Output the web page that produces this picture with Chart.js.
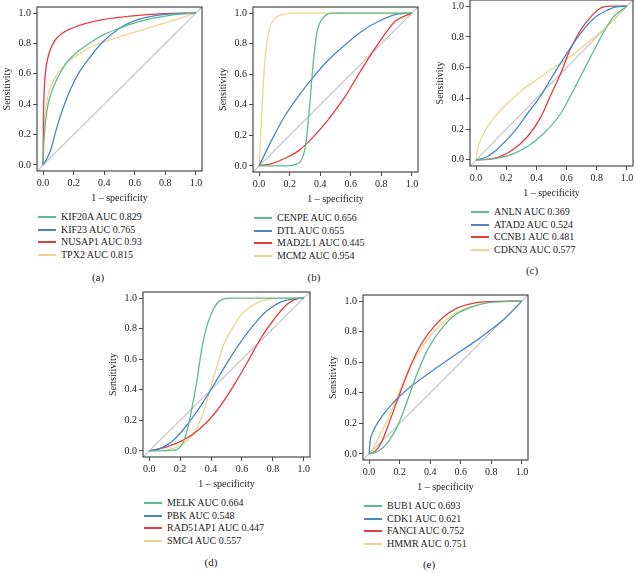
<!DOCTYPE html>
<html>
<head>
<meta charset="utf-8">
<script src="https://cdn.jsdelivr.net/npm/chart.js@4.4.1/dist/chart.umd.min.js"></script>
<style>
  body { margin: 0; background: #fff; width: 636px; height: 573px; position: relative; overflow: hidden;
         font-family: "Liberation Serif", "DejaVu Serif", serif; color: #222; }
  canvas { position: absolute; }
  .lrow { position: absolute; font-size: 10px; white-space: nowrap; height: 12px; line-height: 12px; }
  .lrow .key { position: absolute; left: 0; top: 5px; width: 18px; height: 2px; }
  .lrow .txt { position: absolute; left: 23px; top: 0; }
  .cap { position: absolute; font-size: 11px; transform: translate(-50%, -50%); }
</style>
</head>
<body>
<script>
// ROC curves, pairs of [1 - specificity, sensitivity]

// (a)
const KIF20A = [[0,0],[0.003,0.12],[0.008,0.2],[0.018,0.3],[0.033,0.4],[0.055,0.48],[0.088,0.56],[0.12,0.62],[0.16,0.68],[0.22,0.74],[0.3,0.8],[0.4,0.86],[0.5,0.9],[0.6,0.935],[0.7,0.962],[0.8,0.98],[0.9,0.993],[1,1]];
const KIF23 = [[0,0],[0.03,0.05],[0.05,0.1],[0.077,0.2],[0.1,0.28],[0.14,0.4],[0.18,0.5],[0.23,0.6],[0.3,0.7],[0.38,0.8],[0.5,0.9],[0.6,0.95],[0.7,0.977],[0.8,0.992],[0.9,0.998],[1,1]];
const NUSAP1 = [[0,0],[0.002,0.3],[0.006,0.46],[0.013,0.58],[0.022,0.66],[0.044,0.75],[0.077,0.82],[0.13,0.87],[0.2,0.905],[0.28,0.932],[0.39,0.957],[0.57,0.98],[0.79,0.996],[1,1]];
const TPX2 = [[0,0],[0.002,0.12],[0.004,0.2],[0.01,0.3],[0.018,0.38],[0.03,0.45],[0.044,0.5],[0.07,0.56],[0.1,0.61],[0.15,0.67],[0.22,0.72],[0.3,0.77],[0.4,0.81],[0.5,0.845],[0.6,0.875],[0.7,0.905],[0.8,0.935],[0.9,0.967],[1,1]];

// (b)
const CENPE = [[0,0],[0.1,0],[0.2,0.002],[0.24,0.01],[0.27,0.03],[0.29,0.07],[0.31,0.17],[0.322,0.3],[0.334,0.43],[0.345,0.57],[0.356,0.69],[0.367,0.79],[0.378,0.87],[0.395,0.93],[0.41,0.958],[0.443,0.99],[0.48,1],[1,1]];
const DTL = [[0,0],[0.083,0.17],[0.17,0.33],[0.26,0.46],[0.345,0.57],[0.45,0.69],[0.56,0.79],[0.67,0.88],[0.78,0.945],[0.89,0.99],[1,1]];
const MAD2L1 = [[0,0],[0.083,0.015],[0.17,0.05],[0.26,0.1],[0.345,0.18],[0.45,0.3],[0.56,0.45],[0.67,0.63],[0.78,0.8],[0.89,0.945],[1,1]];
const MCM2 = [[0,0],[0.005,0.1],[0.011,0.21],[0.022,0.43],[0.035,0.65],[0.05,0.8],[0.072,0.91],[0.105,0.967],[0.15,0.99],[0.21,1],[1,1]];

// (c)
const ANLN = [[0,0],[0.117,0.007],[0.227,0.032],[0.34,0.087],[0.45,0.173],[0.56,0.3],[0.67,0.5],[0.78,0.71],[0.845,0.83],[0.91,0.93],[1,1]];
const ATAD2 = [[0,0],[0.073,0.02],[0.16,0.087],[0.25,0.18],[0.34,0.3],[0.43,0.42],[0.51,0.55],[0.6,0.69],[0.69,0.82],[0.78,0.92],[0.87,0.974],[0.93,0.996],[1,1]];
const CCNB1 = [[0,0],[0.117,0.01],[0.227,0.054],[0.34,0.15],[0.43,0.28],[0.49,0.41],[0.56,0.56],[0.62,0.71],[0.69,0.84],[0.76,0.93],[0.82,0.985],[0.89,1],[1,1]];
const CDKN3 = [[0,0],[0.01,0.07],[0.03,0.13],[0.06,0.19],[0.1,0.25],[0.15,0.31],[0.2,0.36],[0.3,0.45],[0.4,0.52],[0.5,0.59],[0.6,0.655],[0.7,0.73],[0.8,0.81],[0.9,0.9],[1,1]];

// (d)
const MELK = [[0,0],[0.1,0.002],[0.16,0.005],[0.18,0.01],[0.21,0.037],[0.243,0.124],[0.276,0.277],[0.31,0.47],[0.34,0.67],[0.374,0.82],[0.417,0.93],[0.46,0.985],[0.526,1],[1,1]];
const PBK = [[0,0],[0.07,0.015],[0.157,0.07],[0.243,0.168],[0.33,0.29],[0.417,0.43],[0.5,0.57],[0.59,0.71],[0.68,0.83],[0.765,0.92],[0.85,0.974],[0.94,0.996],[1,1]];
const RAD51AP1 = [[0,0],[0.113,0.026],[0.22,0.07],[0.33,0.146],[0.44,0.266],[0.548,0.43],[0.635,0.58],[0.72,0.734],[0.81,0.865],[0.896,0.963],[0.96,0.996],[1,1]];
const SMC4 = [[0,0],[0.113,0.006],[0.22,0.048],[0.287,0.113],[0.352,0.255],[0.396,0.41],[0.44,0.56],[0.48,0.69],[0.548,0.82],[0.613,0.91],[0.7,0.97],[0.81,0.996],[1,1]];

// (e)
const BUB1 = [[0,0],[0.06,0.017],[0.126,0.08],[0.19,0.19],[0.256,0.364],[0.32,0.54],[0.387,0.69],[0.474,0.82],[0.56,0.907],[0.67,0.96],[0.78,0.99],[0.9,0.998],[1,1]];
const CDK1 = [[0,0],[0.0065,0.08],[0.028,0.15],[0.06,0.21],[0.126,0.3],[0.235,0.41],[0.34,0.49],[0.45,0.57],[0.56,0.646],[0.67,0.72],[0.78,0.8],[0.887,0.885],[1,1]];
const FANCI = [[0,0],[0.04,0.017],[0.083,0.08],[0.126,0.19],[0.19,0.364],[0.256,0.54],[0.32,0.68],[0.387,0.787],[0.474,0.885],[0.56,0.946],[0.67,0.983],[0.78,0.996],[1,1]];
const HMMR = [[0,0],[0.028,0.04],[0.083,0.15],[0.126,0.234],[0.19,0.386],[0.256,0.54],[0.32,0.657],[0.387,0.755],[0.474,0.85],[0.56,0.918],[0.67,0.965],[0.78,0.99],[1,1]];

const genesA = ['KIF20A', 'KIF23', 'NUSAP1', 'TPX2'];
const aucA = ['0.829', '0.765', '0.93', '0.815'];
const genesB = ['CENPE', 'DTL', 'MAD2L1', 'MCM2'];
const aucB = ['0.656', '0.655', '0.445', '0.954'];
const genesC = ['ANLN', 'ATAD2', 'CCNB1', 'CDKN3'];
const aucC = ['0.369', '0.524', '0.481', '0.577'];
const genesD = ['MELK', 'PBK', 'RAD51AP1', 'SMC4'];
const aucD = ['0.664', '0.548', '0.447', '0.557'];
const genesE = ['BUB1', 'CDK1', 'FANCI', 'HMMR'];
const aucE = ['0.693', '0.621', '0.752', '0.751'];

const tickVals = [0, 0.2, 0.4, 0.6, 0.8, 1.0];
const tickLabels = ['0.0', '0.2', '0.4', '0.6', '0.8', '1.0'];
const axisMin = -0.04, axisMax = 1.04;
const diagonal = [[axisMin, axisMin], [axisMax, axisMax]];

const colors = ['#5fba8e', '#4a86c4', '#e23c3f', '#ebd58e'];
const FONT = '"Liberation Serif", "DejaVu Serif", serif';

// plot-box placement of each panel (px on the page)
const panels = [
  { curves: [KIF20A, KIF23, NUSAP1, TPX2], genes: genesA, auc: aucA, L: 37, T: 7, W: 165, H: 164, cap: '(a)', capX: 98, capY: 277 },
  { curves: [CENPE, DTL, MAD2L1, MCM2], genes: genesB, auc: aucB, L: 253, T: 7, W: 165, H: 165, cap: '(b)', capX: 314, capY: 277 },
  { curves: [ANLN, ATAD2, CCNB1, CDKN3], genes: genesC, auc: aucC, L: 470, T: 0, W: 163, H: 166, cap: '(c)', capX: 532, capY: 270 },
  { curves: [MELK, PBK, RAD51AP1, SMC4], genes: genesD, auc: aucD, L: 143, T: 292, W: 167, H: 165, cap: '(d)', capX: 211, capY: 562 },
  { curves: [BUB1, CDK1, FANCI, HMMR], genes: genesE, auc: aucE, L: 363, T: 295, W: 165, H: 165, cap: '(e)', capX: 429, capY: 564 }
];

const AXIS_W = 36, PAD_T = 10, PAD_R = 12, AXIS_H = 34;

const boxPlugin = {
  id: 'box',
  afterDatasetsDraw(chart) {
    const a = chart.chartArea;
    const ctx = chart.ctx;
    ctx.save();
    ctx.strokeStyle = '#4a4a4a';
    ctx.lineWidth = 1.2;
    ctx.strokeRect(a.left, a.top, a.right - a.left, a.bottom - a.top);
    ctx.restore();
  }
};

function axis(title, fit, titlePad) {
  return {
    type: 'linear',
    min: axisMin,
    max: axisMax,
    afterBuildTicks: s => { s.ticks = tickVals.map(v => ({ value: v })); },
    afterFit: fit,
    grid: { display: true, drawOnChartArea: false, drawTicks: true, tickLength: 4, color: '#4a4a4a' },
    border: { display: false },
    ticks: { callback: (v, i) => tickLabels[i], font: { family: FONT, size: 10 }, color: '#222', padding: 2, maxRotation: 0 },
    title: { display: true, text: title, font: { family: FONT, size: 10 }, color: '#222', padding: titlePad }
  };
}

panels.forEach(p => {
  const cv = document.createElement('canvas');
  const cw = AXIS_W + p.W + PAD_R, ch = PAD_T + p.H + AXIS_H;
  cv.width = cw; cv.height = ch;
  cv.style.left = (p.L - AXIS_W) + 'px';
  cv.style.top = (p.T - PAD_T) + 'px';
  cv.style.width = cw + 'px'; cv.style.height = ch + 'px';
  document.body.appendChild(cv);

  const datasets = p.curves.map((c, i) => ({
    label: p.genes[i] + ' AUC ' + p.auc[i],
    data: c.map(d => ({ x: d[0], y: d[1] })),
    borderColor: colors[i],
    borderWidth: 1.3,
    pointRadius: 0,
    fill: false,
    cubicInterpolationMode: 'monotone'
  }));
  datasets.push({
    label: 'reference',
    data: diagonal.map(d => ({ x: d[0], y: d[1] })),
    borderColor: '#c2c2c2',
    borderWidth: 1.2,
    pointRadius: 0,
    fill: false
  });

  new Chart(cv.getContext('2d'), {
    type: 'line',
    data: { datasets: datasets },
    options: {
      responsive: false,
      animation: false,
      devicePixelRatio: 1,
      layout: { padding: { top: PAD_T, right: PAD_R, left: 0, bottom: 0 } },
      plugins: { legend: { display: false }, tooltip: { enabled: false } },
      scales: {
        x: axis('1 \u2013 specificity', s => { s.height = AXIS_H; }, { top: 0, bottom: 1 }),
        y: axis('Sensitivity', s => { s.width = AXIS_W; }, { top: 0, bottom: 0 })
      }
    },
    plugins: [boxPlugin]
  });

  // legend rows under the plot, on whole pixels so the keys stay crisp
  p.genes.forEach((g, i) => {
    const row = document.createElement('div');
    row.className = 'lrow';
    row.style.left = (p.L + 1) + 'px';
    row.style.top = Math.round(p.T + p.H + 46 - 6 + i * 12.7) + 'px';
    const key = document.createElement('span');
    key.className = 'key';
    key.style.backgroundColor = colors[i];
    const txt = document.createElement('span');
    txt.className = 'txt';
    txt.textContent = g + ' AUC ' + p.auc[i];
    row.appendChild(key);
    row.appendChild(txt);
    document.body.appendChild(row);
  });

  const cap = document.createElement('div');
  cap.className = 'cap';
  cap.style.left = p.capX + 'px';
  cap.style.top = p.capY + 'px';
  cap.textContent = p.cap;
  document.body.appendChild(cap);
});
</script>
</body>
</html>
